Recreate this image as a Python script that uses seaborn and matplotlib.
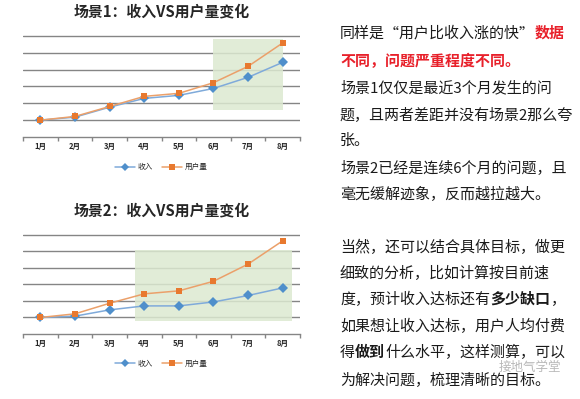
import matplotlib
matplotlib.use("Agg")
import matplotlib.pyplot as plt
import seaborn as sns
import pandas as pd
import numpy as np

months = ["1月", "2月", "3月", "4月", "5月", "6月", "7月", "8月"]
s1_income = [1.0, 1.18, 1.77, 2.29, 2.47, 2.88, 3.54, 4.43]
s1_users = [1.0, 1.22, 1.81, 2.41, 2.59, 3.22, 4.19, 5.58]
s2_income = [1.0, 1.08, 1.46, 1.70, 1.70, 1.94, 2.33, 2.79]
s2_users = [1.0, 1.22, 1.86, 2.43, 2.61, 3.19, 4.23, 5.64]
titles = ["场景1：收入VS用户量变化", "场景2：收入VS用户量变化"]
series_names = ["收入", "用户量"]

sns.set_theme(style="white")
plt.rcParams["font.family"] = ["Noto Sans CJK SC", "DejaVu Sans"]

fig = plt.figure(figsize=(5.8, 3.99), dpi=100)

blue = "#4F8FCB"
orange = "#E8792F"
blue_line = "#7FAADA"
orange_line = "#EBA06A"
grid_c = "#858585"

def make_chart(ax, inc, usr, title, rect):
    df = pd.DataFrame({
        "月": months * 2,
        "值": inc + usr,
        "系列": [series_names[0]] * 8 + [series_names[1]] * 8,
    })
    ax.add_patch(plt.Rectangle((rect[0], rect[1]), rect[2] - rect[0], rect[3] - rect[1],
                               facecolor="#DCE9D0", edgecolor="none", alpha=0.85, zorder=1))
    for y in range(1, 7):
        ax.axhline(y, color=grid_c, lw=1.0, zorder=0.5)
    sns.lineplot(data=df, x="月", y="值", hue="系列", style="系列",
                 palette={series_names[0]: blue, series_names[1]: orange},
                 markers={series_names[0]: "D", series_names[1]: "s"},
                 dashes=False, markersize=5, linewidth=1.1, ax=ax, zorder=3,
                 markeredgewidth=0)
    light = {blue: blue_line, orange: orange_line}
    for ln in ax.lines:
        c = ln.get_color()
        if c in light:
            ln.set_color(light[c])
            ln.set_markerfacecolor(c)
            ln.set_markeredgecolor(c)
    ax.set_xlim(-0.5, 7.5)
    ax.set_ylim(0, 6.05)
    ax.set_yticks([])
    ax.set_xlabel("")
    ax.set_ylabel("")
    for s in ["top", "right", "left"]:
        ax.spines[s].set_visible(False)
    ax.spines["bottom"].set_color(grid_c)
    ax.spines["bottom"].set_linewidth(1.0)
    ax.set_xticks(range(8))
    ax.set_xticklabels(months, fontsize=5.5, fontweight="bold")
    ax.set_xticks(np.arange(-0.5, 8.0, 1.0), minor=True)
    ax.tick_params(axis="x", which="major", length=0, pad=3.5)
    ax.tick_params(axis="x", which="minor", length=3, color=grid_c, width=1, direction="out", bottom=True)
    ax.set_title(title, fontsize=10.7, fontweight="bold", pad=13)
    leg = ax.legend(loc="upper center", bbox_to_anchor=(0.5, -0.19), ncol=2, frameon=False,
                    fontsize=5.5, handlelength=2.6, columnspacing=1.2, handletextpad=0.4)
    for h, c in zip(leg.legend_handles, [blue, orange]):
        h.set_markersize(4)
        h.set_color(light[c])
        h.set_markerfacecolor(c)
        h.set_markeredgecolor(c)

ax1 = fig.add_axes([0.0397, 0.6566, 0.4776, 0.2557])
make_chart(ax1, s1_income, s1_users, titles[0], (5.0, 1.58, 7.0, 5.84))
ax2 = fig.add_axes([0.0397, 0.1629, 0.4776, 0.2506])
make_chart(ax2, s2_income, s2_users, titles[1], (2.72, 0.76, 7.28, 5.08))

# Right side text
fs = 10.8
x0 = 340 / 580

def line(y_px, segments):
    prev = None
    for txt, color, weight in segments:
        if prev is None:
            prev = fig.text(x0, 1 - y_px / 399, txt, color=color, fontweight=weight,
                            fontsize=fs, va="center", ha="left")
        else:
            prev = ax1.annotate(txt, xy=(1, 0), xycoords=prev, va="bottom", ha="left",
                                color=color, fontweight=weight, fontsize=fs,
                                annotation_clip=False)

K = "#1a1a1a"
R = "#E8202A"
lines = [
    (33, [("同样是“用户比收入涨的快”", K, "normal"), ("数据", R, "bold")]),
    (61, [("不同，问题严重程度不同。", R, "bold")]),
    (88, [("场景1仅仅是最近3个月发生的问", K, "normal")]),
    (115, [("题，且两者差距并没有场景2那么夸", K, "normal")]),
    (141, [("张。", K, "normal")]),
    (168, [("场景2已经是连续6个月的问题，且", K, "normal")]),
    (194, [("毫无缓解迹象，反而越拉越大。", K, "normal")]),
    (247, [("当然，还可以结合具体目标，做更", K, "normal")]),
    (273, [("细致的分析，比如计算按目前速", K, "normal")]),
    (299, [("度，预计收入达标还有", K, "normal"), ("多少缺口", K, "bold"), ("，", K, "normal")]),
    (326, [("如果想让收入达标，用户人均付费", K, "normal")]),
    (353, [("得", K, "normal"), ("做到", K, "bold"), ("什么水平，这样测算，可以", K, "normal")]),
    (380, [("为解决问题，梳理清晰的目标。", K, "normal")]),
]
for y, segs in lines:
    line(y, segs)

fig.text(530 / 580, 1 - 367 / 399, "接地气学堂", fontsize=9, color="#9a9a9a", alpha=0.7,
         ha="center", va="center")

fig.savefig("out.png", dpi=100)
